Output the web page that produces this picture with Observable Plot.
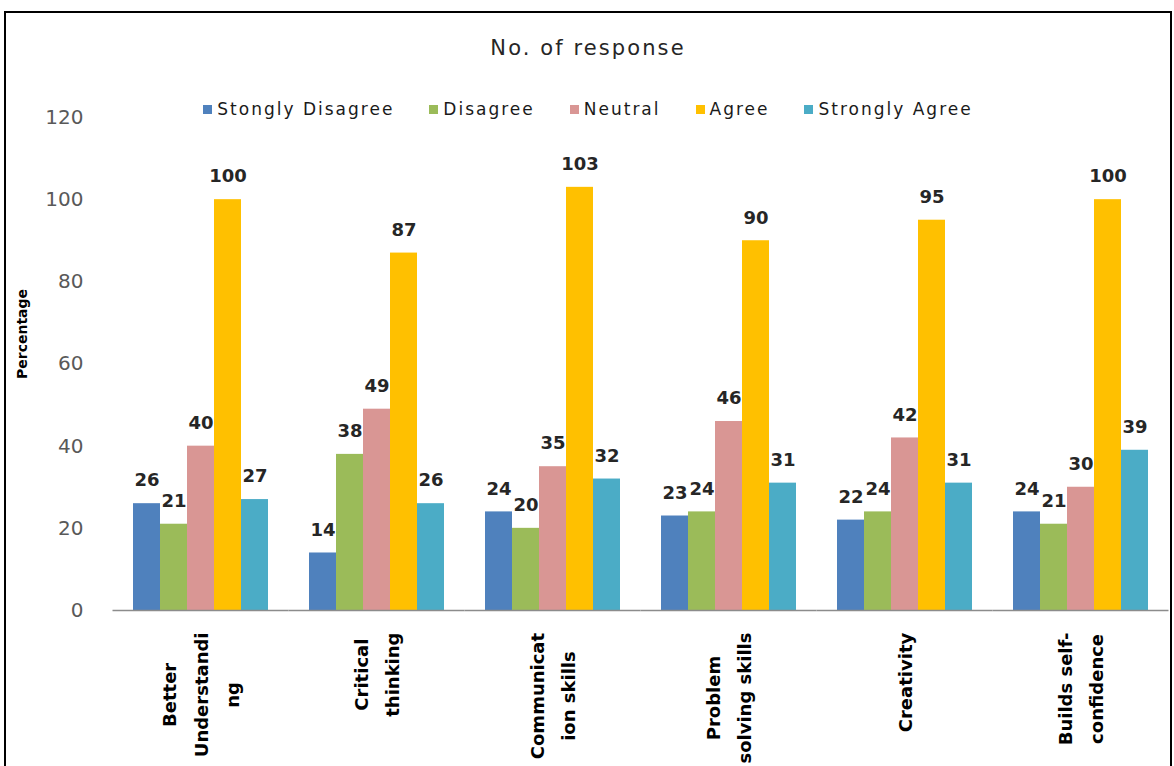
<!DOCTYPE html>
<html>
<head>
<meta charset="utf-8">
<script src="https://cdn.jsdelivr.net/npm/d3@7"></script>
<script src="https://cdn.jsdelivr.net/npm/@observablehq/plot@0.6"></script>
<style>
  html, body { margin: 0; padding: 0; background: #fff; width: 1174px; height: 766px; overflow: hidden; font-family: "DejaVu Sans", sans-serif; }
  #frame { position: absolute; left: 4px; top: 11px; width: 1164px; height: 770px; border: 2px solid #000; background: #fff; }
  #chart { position: absolute; left: 0; top: 0; }
  #title { position: absolute; left: 0; right: 0; top: 23px; text-align: center; font-size: 21px; line-height: 24px; color: #262626; letter-spacing: 2.1px; }
  #legend { position: absolute; left: 0; right: 0; top: 86px; display: flex; justify-content: center; }
  .lg-swatches { margin: 0 !important; min-height: 0 !important; }
  .lg-swatch { margin-right: 35px !important; }
  .lg-swatch:last-child { margin-right: 0 !important; }
  .lg-swatch > svg { margin-right: 5px !important; }
</style>
</head>
<body>
<div id="frame">
  <div id="chart"></div>
  <div id="title"></div>
  <div id="legend"></div>
</div>
<script>
const categories = ["Better Understanding", "Critical thinking", "Communication skills", "Problem solving skills", "Creativity", "Builds self-confidence"];
const categoryLabels = ["Better\nUnderstandi\nng", "Critical\nthinking", "Communicat\nion skills", "Problem\nsolving skills", "Creativity", "Builds self-\nconfidence"];
const series = ["Stongly Disagree", "Disagree", "Neutral", "Agree", "Strongly Agree"];
const stonglyDisagree = [26, 14, 24, 23, 22, 24];
const disagree = [21, 38, 20, 24, 24, 21];
const neutral = [40, 49, 35, 46, 42, 30];
const agree = [100, 87, 103, 90, 95, 100];
const stronglyAgree = [27, 26, 32, 31, 31, 39];
const seriesColors = ["#4F81BD", "#9BBB59", "#D99694", "#FFC000", "#4BACC6"];
const yTicks = [0, 20, 40, 60, 80, 100, 120];
const titleText = "No. of response";
const yLabel = "Percentage";

const values = [stonglyDisagree, disagree, neutral, agree, stronglyAgree];
const table = categories.flatMap((c, i) => series.map((s, j) => ({category: c, series: s, value: values[j][i]})));

document.getElementById("title").textContent = titleText;

const plot = Plot.plot({
  width: 1164,
  height: 753,
  marginLeft: 106,
  marginRight: 2,
  marginTop: 104,
  marginBottom: 156,
  style: {fontFamily: "DejaVu Sans, sans-serif", background: "transparent", overflow: "visible"},
  fx: {domain: categories, paddingInner: 0.233, paddingOuter: 0.1165, axis: null, label: null},
  x: {domain: series, padding: 0, axis: null},
  y: {domain: [0, 120], axis: null},
  color: {domain: series, range: seriesColors},
  marks: [
    Plot.barY(table, {fx: "category", x: "series", y: "value", fill: "series"}),
    Plot.ruleY([0], {stroke: "#8c8c8c", strokeWidth: 1.3, insetLeft: -20.5, insetRight: -20.5}),
    Plot.text(table, {fx: "category", x: "series", y: "value", text: d => String(d.value), dy: -23, fontSize: 18, fontWeight: "bold", fill: "#262626"}),
    Plot.axisY(yTicks, {tickSize: 0, tickPadding: 50, fontSize: 20, color: "#595959", label: null}),
    Plot.text(categories, {fx: d => d, text: (d, i) => categoryLabels[i], frameAnchor: "bottom", rotate: -90, textAnchor: "middle", dy: 22, fontSize: 18, fontWeight: "bold", lineHeight: 1.75, fill: "#000", ariaDescription: "xlabels"}),
    Plot.text([yLabel], {facet: "super", frameAnchor: "left", rotate: -90, dx: -111, dy: 15, fontSize: 14, fontWeight: "bold", fill: "#000"})
  ]
});
document.getElementById("chart").appendChild(plot);

// end-align each rotated label block at the axis (top), lines centred on each other and on the group
plot.querySelectorAll('g[aria-description="xlabels"] text').forEach(t => {
  const bb = t.getBBox();
  const tx = -(bb.x + bb.width);
  const ty = -(bb.y + bb.height / 2);
  t.setAttribute("transform", t.getAttribute("transform") + ` translate(${tx},${ty})`);
});

const legend = Plot.legend({
  color: {domain: series, range: seriesColors},
  legend: "swatches",
  swatchSize: 9,
  className: "lg",
  style: {fontFamily: "DejaVu Sans, sans-serif", fontSize: "17px", color: "#1a1a1a", letterSpacing: "2px"}
});
document.getElementById("legend").appendChild(legend);
</script>
</body>
</html>
